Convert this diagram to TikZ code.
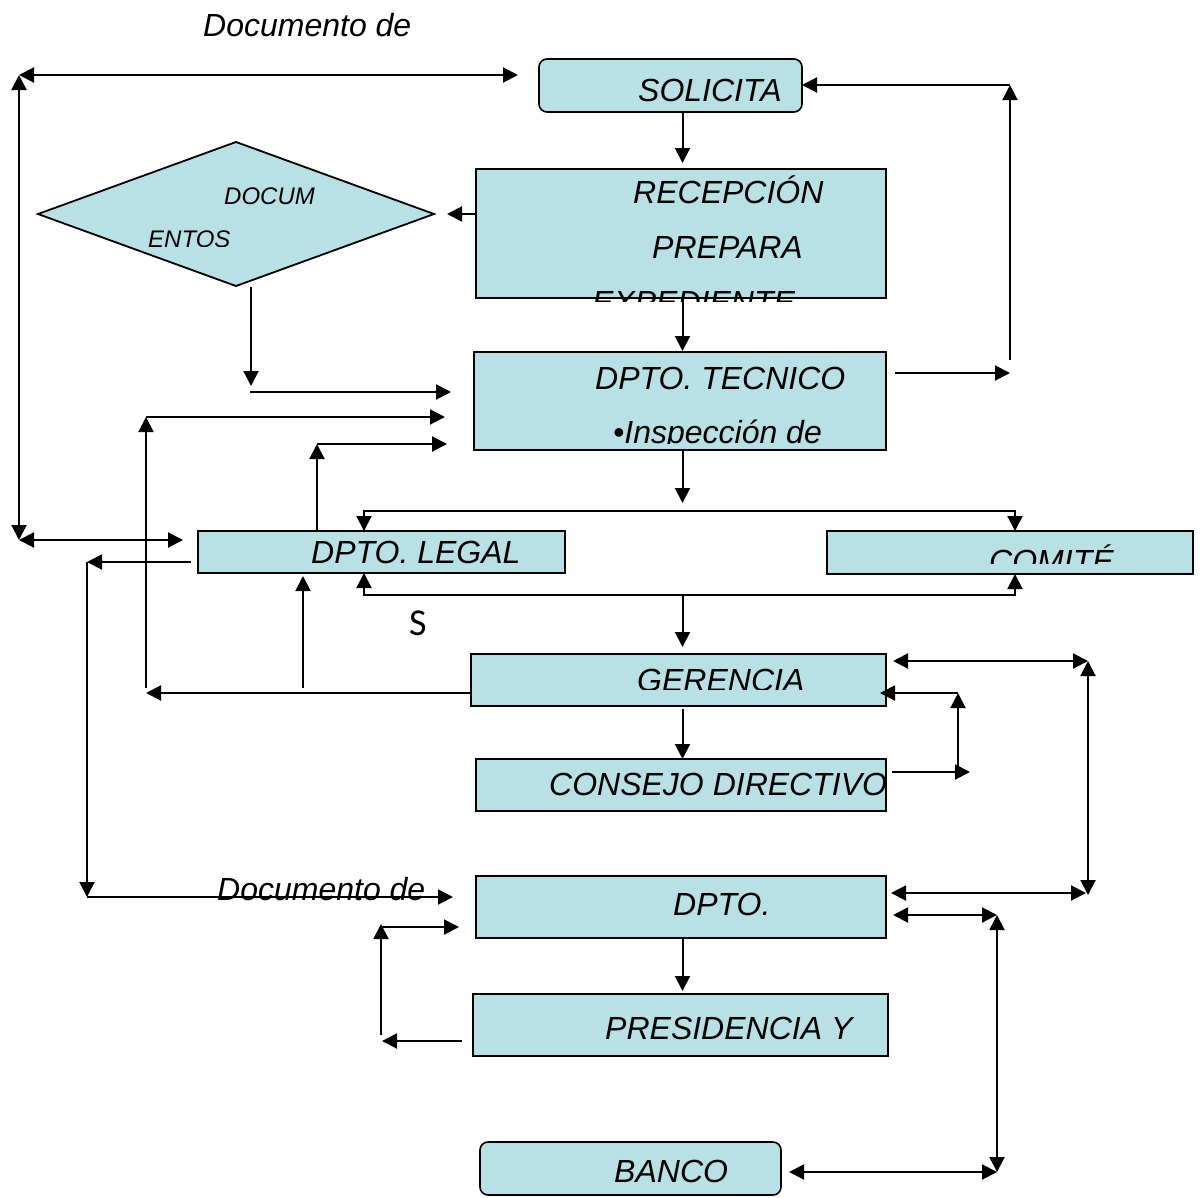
\documentclass[tikz,border=0pt]{standalone}
\usepackage{fontspec}
\setmainfont{Liberation Sans}
\newfontfamily\narrowsans{Carlito}
\usetikzlibrary{arrows.meta,shapes.geometric}
\definecolor{boxfill}{RGB}{185,224,228}
\begin{document}
\begin{tikzpicture}[x=1pt,y=-1pt,
  box/.style={draw=black,line width=1.8pt,fill=boxfill,inner sep=0pt,outer sep=0pt},
  rbox/.style={box,line width=1.6pt,rounded corners=8pt},
  lbl/.style={anchor=base west,inner sep=0pt,font=\fontsize{32}{37}\selectfont\itshape},
  small/.style={anchor=base west,inner sep=0pt,font=\fontsize{24}{28}\selectfont\itshape},
  tip/.tip={Triangle[length=15pt,width=15pt]},
  arr/.style={line width=2pt,-tip},
  darr/.style={line width=2pt,tip-tip}
]
\useasboundingbox (0,0) rectangle (1204,1197);

% ---------- boxes ----------
\node[rbox,minimum width=263pt,minimum height=53pt] (solicita) at (670.5,85.5) {};
\node[box,minimum width=410pt,minimum height=129pt] (recep) at (681,233.5) {};
\node[box,diamond,minimum width=396pt,minimum height=144pt,aspect=2.75] (docs) at (236,214) {};
\node[box,minimum width=412pt,minimum height=98pt] (tecnico) at (680,401) {};
\node[box,minimum width=367pt,minimum height=42pt] (legal) at (381.5,552) {};
\node[box,minimum width=366pt,minimum height=43pt] (comite) at (1010,552.5) {};
\node[box,minimum width=415pt,minimum height=52pt] (gerencia) at (678.5,680) {};
\node[box,minimum width=410pt,minimum height=52pt] (consejo) at (681,785) {};
\node[box,minimum width=410pt,minimum height=62pt] (dpto) at (681,907) {};
\node[box,minimum width=415pt,minimum height=62pt] (presid) at (680.5,1025) {};
\node[rbox,minimum width=301pt,minimum height=53pt] (banco) at (630.5,1168.5) {};

% ---------- labels ----------
\node[lbl] (tdocA) at (203,36) {Documento de};
\node[lbl] (tsol) at (638,101) {SOLICITA};
\node[lbl] (trec) at (633,203) {RECEPCIÓN};
\node[lbl] (tprep) at (652,258) {PREPARA};
\begin{scope}
  \clip (560,280) rectangle (830,301);
  \node[lbl] (texp) at (592,313) {EXPEDIENTE};
\end{scope}
\node[small] (tdocum) at (224,204) {DOCUM};
\begin{scope}
  \clip (140,220) rectangle (240,246);
  \node[small] (tentos) at (148,247) {ENTOS};
\end{scope}
\node[lbl] (ttec) at (595,389) {DPTO. TECNICO};
\begin{scope}
  \clip (600,405) rectangle (840,443);
  \node[lbl] (tinsp) at (613,443) {•Inspección de};
\end{scope}
\node[lbl] (tleg) at (311,563) {DPTO. LEGAL};
\begin{scope}
  \clip (980,535) rectangle (1130,563);
  \node[lbl] (tcom) at (989,572) {COMITÉ};
\end{scope}
\node[anchor=base west,inner sep=0pt,font=\fontsize{38}{42}\selectfont\narrowsans] (ts) at (409,635) {S};
\begin{scope}
  \clip (620,660) rectangle (820,689);
  \node[lbl] (tger) at (637,691) {GERENCIA};
\end{scope}
\begin{scope}
  \clip (540,762) rectangle (886,808);
  \node[lbl] (tcons) at (549,795) {CONSEJO DIRECTIVO};
\end{scope}
\node[lbl] (tdocB) at (217,900) {Documento de};
\node[lbl] (tdpto) at (673,915) {DPTO.};
\node[lbl] (tpres) at (605,1039) {PRESIDENCIA Y};
\node[lbl] (tban) at (614,1182) {BANCO};

% ---------- reference points ----------
\coordinate (colM) at (682.5,0);
\coordinate (tlc) at (19,75);
\coordinate (blc) at (19,540);
\coordinate (solin) at (518,75);
\coordinate (legin) at (183,540);
\coordinate (dd1) at (251,287);
\coordinate (dd2) at (251,386);
\coordinate (dd3) at (250,392);
\coordinate (tin1) at (451,392);
\coordinate (tr1) at (895,373);
\coordinate (tr2) at (1010,373);
\coordinate (tr3) at (1010,360);
\coordinate (tr4) at (1010,85);
\coordinate (lv1) at (146,688);
\coordinate (lv2) at (146,417);
\coordinate (tin2) at (445,417);
\coordinate (lv3) at (317,444);
\coordinate (tin3) at (447,444);
\coordinate (tdn) at (682.5,503);
\coordinate (busL) at (364,511);
\coordinate (busR) at (1015,511);
\coordinate (busL2) at (364,595);
\coordinate (busR2) at (1015,595);
\coordinate (gl) at (146,693);
\coordinate (lu) at (303,688);
\coordinate (ll) at (87,562);
\coordinate (lb) at (87,897);
\coordinate (din1) at (453,897);
\coordinate (gr1) at (1088,661);
\coordinate (gr2) at (1088,895);
\coordinate (dr1) at (1086,893);
\coordinate (cv1) at (958,772);
\coordinate (cv2) at (958,693);
\coordinate (cr) at (970,772);
\coordinate (dv1) at (997,915);
\coordinate (dv2) at (997,1172);
\coordinate (pl) at (382,1041);
\coordinate (pv1) at (381,1035);
\coordinate (pv2) at (381,924);
\coordinate (pv3) at (381,927);
\coordinate (din2) at (459,927);

% ---------- connectors ----------
\draw[darr] (tlc) -- (solin);
\draw[darr] (tlc) -- (blc);
\draw[darr] (blc) -- (legin);

\draw[arr,shorten >=6pt] (solicita.south -| colM) -- (recep.north -| colM);
\draw[arr,shorten >=13pt] (recep.west |- docs.east) -- (docs.east);
\draw[arr] (dd1) -- (dd2);
\draw[arr] (dd3) -- (tin1);
\draw[arr,shorten >=1pt] (recep.south -| colM) -- (tecnico.north -| colM);

\draw[arr] (tr1) -- (tr2);
\draw[arr] (tr3) -- (tr4);
\draw[arr] (tr4) -- (solicita.east |- tr4);

\draw[arr] (lv1) -- (lv2);
\draw[arr] (lv2) -- (tin2);
\draw[arr] (legal.north -| lv3) -- (lv3);
\draw[arr] (lv3) -- (tin3);

\draw[arr] (tecnico.south -| colM) -- (tdn);
\draw[darr] (legal.north -| busL) -- (busL) -- (busR) -- (comite.north -| busR);
\draw[darr] (legal.south -| busL2) -- (busL2) -- (busR2) -- (comite.south -| busR2);
\draw[arr,shorten >=7pt] (busL2 -| colM) -- (gerencia.north -| colM);

\draw[arr] (gerencia.west |- gl) -- (gl);
\draw[arr,shorten >=3pt] (lu) -- (legal.south -| lu);
\draw[arr,shorten <=7pt] (legal.west |- ll) -- (ll);
\draw[arr] (ll) -- (lb);
\draw[arr] (lb) -- (din1);

\draw[arr,shorten <=3pt] (gerencia.south -| colM) -- (consejo.north -| colM);
\draw[darr,shorten <=7pt] (gerencia.east |- gr1) -- (gr1);
\draw[darr] (gr1) -- (gr2);
\draw[darr,shorten <=5pt] (dpto.east |- dr1) -- (dr1);
\draw[arr] (cv1) -- (cv2);
\draw[arr,shorten >=-6pt] (cv2) -- (gerencia.east |- cv2);
\draw[arr,shorten <=6pt] (consejo.east |- cr) -- (cr);

\draw[darr,shorten <=7pt] (dpto.east |- dv1) -- (dv1);
\draw[darr] (dv1) -- (dv2);
\draw[darr,shorten <=8pt] (banco.east |- dv2) -- (dv2);

\draw[arr,shorten >=3pt] (dpto.south -| colM) -- (presid.north -| colM);
\draw[arr,shorten <=11pt] (presid.west |- pl) -- (pl);
\draw[arr] (pv1) -- (pv2);
\draw[arr] (pv3) -- (din2);
\end{tikzpicture}
\end{document}
